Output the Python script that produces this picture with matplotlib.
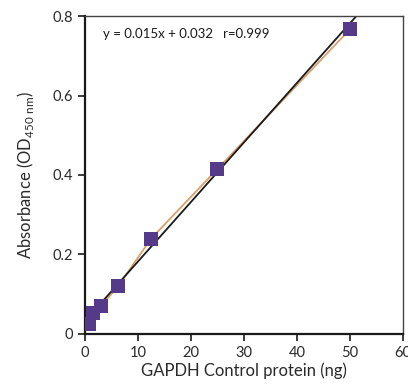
import numpy as np
import matplotlib.pyplot as plt

plt.rcParams['font.family'] = ['Lato', 'DejaVu Sans']
plt.rcParams['mathtext.fontset'] = 'custom'
plt.rcParams['mathtext.rm'] = 'Lato'

# GAPDH standard curve
protein_ng = [0.78, 1.56, 3.125, 6.25, 12.5, 25, 50]
absorbance = [0.024, 0.052, 0.071, 0.12, 0.24, 0.415, 0.767]
slope, intercept = 0.015, 0.032

x_ticks = [0, 10, 20, 30, 40, 50, 60]
y_ticks = [0, 0.2, 0.4, 0.6, 0.8]
y_tick_labels = ['0', '0.2', '0.4', '0.6', '0.8']

fig = plt.figure(figsize=(4.08, 3.91), dpi=100)
ax = fig.add_axes([0.208, 0.146, 0.78, 0.813])

xfit = np.array([0, 60])
ax.plot(xfit, slope * xfit + intercept, color='#1a1a1a', lw=1.3, zorder=2)
ax.plot(protein_ng, absorbance, color='#d9a06b', lw=1.3, zorder=1)
ax.scatter(protein_ng, absorbance, marker='s', s=110, color='#553a8a', zorder=3, linewidths=0)

ax.set_xlim(0, 60)
ax.set_ylim(0, 0.8)
ax.set_xticks(x_ticks)
ax.set_yticks(y_ticks)
ax.set_yticklabels(y_tick_labels)
ax.tick_params(direction='out', length=5, width=1.2, labelsize=10.5, color='#1a1a1a', labelcolor='#2a2a2a')

for side in ['left', 'bottom']:
    ax.spines[side].set_linewidth(1.6)
    ax.spines[side].set_color('#1a1a1a')
for side in ['top', 'right']:
    ax.spines[side].set_linewidth(1.0)
    ax.spines[side].set_color('#444444')

ax.set_xlabel('GAPDH Control protein (ng)', fontsize=12, color='#2a2a2a', labelpad=2)
ax.set_ylabel(r'Absorbance (OD$_{\mathregular{450\ nm}}$)', fontsize=12, color='#2a2a2a', labelpad=12)

ax.text(3.5, 0.755, 'y = 0.015x + 0.032   r=0.999', fontsize=9.5, color='#1a1a1a', va='center')

fig.savefig('out.png', dpi=100)
